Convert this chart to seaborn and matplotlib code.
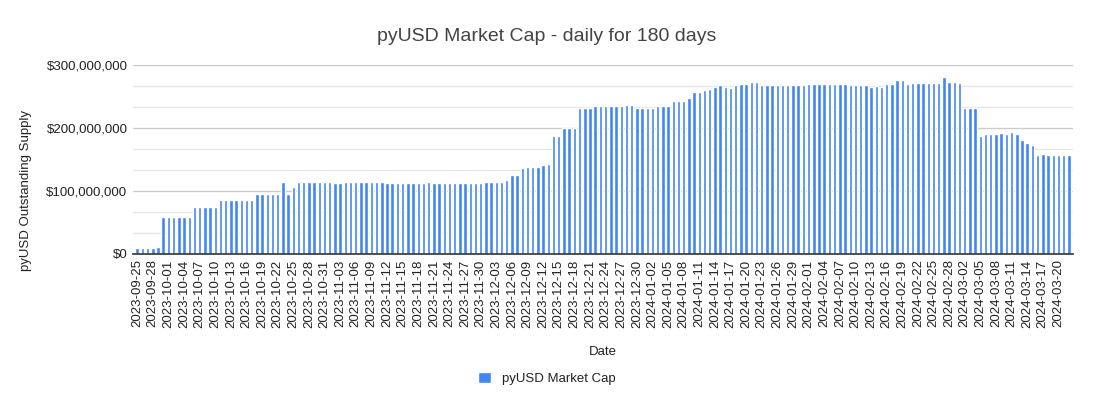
import matplotlib
matplotlib.use("Agg")
import matplotlib.pyplot as plt
from matplotlib.patches import Patch
from matplotlib.ticker import FuncFormatter, MultipleLocator
import pandas as pd
import seaborn as sns

# daily dates, 180 days starting 2023-09-25
dates = pd.date_range("2023-09-25", periods=180).strftime("%Y-%m-%d").tolist()

# market cap in millions of USD
cap_musd = [
    9.0, 9.0, 9.0, 9.0, 10.5, 59, 59, 59, 59, 59,
    59, 75, 75, 75, 75, 75, 86, 86, 86, 86,
    86, 86, 86, 95.5, 95.5, 95.5, 95.5, 95.5, 114, 95.5,
    106, 114, 114, 114, 114, 114, 114, 114, 113, 113,
    114, 114, 114, 114, 114, 114, 114, 114, 113, 113,
    113, 113, 113, 113, 113, 113, 114, 113, 113, 113,
    113, 113, 113, 113, 113, 113, 113, 114, 114, 114,
    114, 117.5, 125, 125, 136, 138, 138, 138, 141, 142.6,
    186.7, 186.7, 199, 199, 199, 230.7, 232, 232, 234, 234,
    234, 234, 234, 234, 237, 235.5, 232, 232, 232, 232,
    234, 234, 234, 243, 243, 243, 248, 257.5, 257.5, 260.6,
    262, 265, 268.5, 265, 263.8, 268.5, 270, 270, 273, 273,
    268.5, 268.5, 268.5, 268.5, 268.5, 268.5, 268.5, 268.5, 268.5, 270,
    270, 270, 270, 270, 270, 270, 270, 268.5, 268.5, 268.5,
    268.5, 265, 267, 264, 270, 270, 276, 276, 270, 271.6,
    271.6, 271.6, 271.6, 271.6, 271.6, 281, 273, 273, 271.6, 232,
    232, 232, 186.7, 190, 190, 190, 191.4, 190, 193, 190,
    180, 175.7, 172.5, 156.8, 158.4, 156.8, 156.8, 156.8, 156.8, 156.8,
]

df = pd.DataFrame({"Date": dates, "cap": [v * 1e6 for v in cap_musd]})

sns.set_theme(style="white")
plt.rcParams["font.family"] = ["Liberation Sans", "DejaVu Sans"]

bar_color = "#4285F4"

fig = plt.figure(figsize=(10.93, 4.05), dpi=100)
ax = fig.add_axes([0.1217, 0.373, 0.86, 0.467])

sns.barplot(data=df, x="Date", y="cap", color=bar_color, width=0.66,
            saturation=1, ax=ax, zorder=3)

ax.set_ylim(0, 300e6)
ax.set_xlim(-0.8, len(dates) - 0.2)
ax.yaxis.set_major_locator(MultipleLocator(100e6))
ax.yaxis.set_minor_locator(MultipleLocator(100e6 / 3))
ax.yaxis.set_major_formatter(FuncFormatter(lambda v, p: "${:,.0f}".format(v)))
ax.grid(axis="y", which="major", color="#cccccc", linewidth=1, zorder=0)
ax.grid(axis="y", which="minor", color="#e6e6e6", linewidth=1, zorder=0)
ax.set_axisbelow(True)

ticks = list(range(0, len(dates), 3))
ax.set_xticks(ticks)
ax.set_xticklabels([dates[i] for i in ticks], rotation=90, fontsize=9.5, color="#222222")
ax.tick_params(axis="y", labelsize=9.5, colors="#222222", length=0, pad=4)
ax.tick_params(axis="x", length=0, pad=4)

for s in ["top", "right", "left"]:
    ax.spines[s].set_visible(False)
ax.spines["bottom"].set_color("#333333")
ax.spines["bottom"].set_linewidth(1.2)
ax.spines["bottom"].set_zorder(4)

ax.set_xlabel("Date", fontsize=9.5, color="#222222", labelpad=13)
ax.set_ylabel("pyUSD Outstanding Supply", fontsize=9.5, color="#222222")
ax.yaxis.set_label_coords(-0.108, 0.333)

fig.suptitle("pyUSD Market Cap - daily for 180 days", fontsize=14, color="#444444", y=0.93)

fig.legend(handles=[Patch(facecolor=bar_color, label="pyUSD Market Cap")],
           loc="lower center", bbox_to_anchor=(0.5, 0.02), frameon=False,
           fontsize=9.5, handlelength=1.0, handleheight=1.0, labelcolor="#222222")

fig.savefig("out.png", dpi=100)
